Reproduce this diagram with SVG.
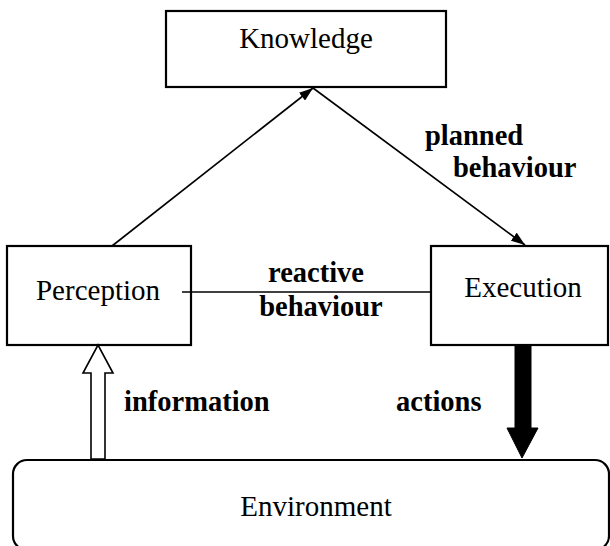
<svg xmlns="http://www.w3.org/2000/svg" width="610" height="546" viewBox="0 0 610 546">
<style>
.box{fill:#fff;stroke:#000;stroke-width:2.2}
.t{font-family:"Liberation Serif","Times New Roman",serif;font-size:29px;fill:#000}
.b{font-family:"Liberation Serif","Times New Roman",serif;font-size:28.5px;font-weight:bold;fill:#000}
.ln{stroke:#000;stroke-width:1.6;fill:none}
</style>
<defs>
<marker id="ah" viewBox="0 0 14 10" refX="14" refY="5" markerWidth="14" markerHeight="10" markerUnits="userSpaceOnUse" orient="auto">
<path d="M0,0 L14,5 L0,10 Z" fill="#000"/>
</marker>
</defs>
<rect width="610" height="546" fill="#fff"/>
<g id="knowledge">
<rect class="box" x="166" y="11" width="280" height="76"/>
<text class="t" x="306" y="48" text-anchor="middle">Knowledge</text>
</g>
<g id="perception">
<rect class="box" x="7" y="246" width="184" height="99"/>
<text class="t" x="98" y="300" text-anchor="middle">Perception</text>
</g>
<g id="execution">
<rect class="box" x="431" y="246" width="177" height="99"/>
<text class="t" x="523" y="297" text-anchor="middle">Execution</text>
</g>
<g id="environment">
<rect class="box" x="13" y="460" width="596" height="90" rx="14"/>
<text class="t" x="316" y="516" text-anchor="middle">Environment</text>
</g>
<g id="connectors">
<line class="ln" x1="112" y1="246" x2="313" y2="88" marker-end="url(#ah)"/>
<line class="ln" x1="313" y1="88" x2="525" y2="245" marker-end="url(#ah)"/>
<line class="ln" x1="182" y1="292" x2="431" y2="292"/>
<polygon points="91,459 91,373 83,373 98,345 113,373 105,373 105,459" fill="#fff" stroke="#000" stroke-width="1.6"/>
<polygon points="515,345 515,428 507,428 522,458 538,428 531,428 531,345" fill="#000" stroke="#000" stroke-width="1"/>
<text class="b" x="124" y="411">information</text>
<text class="b" x="396" y="411">actions</text>
<text class="b" x="316" y="282" text-anchor="middle">reactive</text>
<text class="b" x="321" y="316" text-anchor="middle">behaviour</text>
<text class="b" x="425" y="145">planned</text>
<text class="b" x="453" y="177">behaviour</text>
</g>
</svg>
